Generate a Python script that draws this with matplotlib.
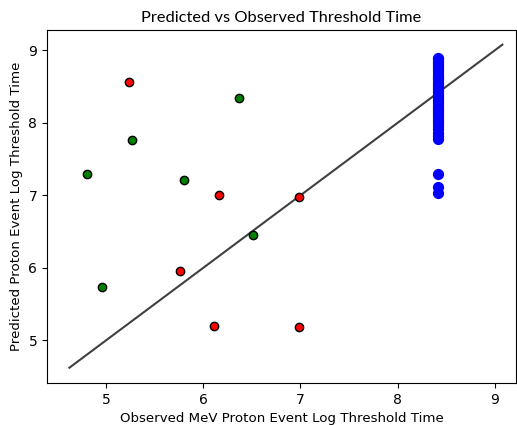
import numpy as np
import matplotlib.pyplot as plt

# observed vs predicted log threshold times
red_obs = [5.23, 6.16, 6.99, 5.76, 6.11, 6.99]
red_pred = [8.56, 7.00, 6.98, 5.95, 5.19, 5.18]
green_obs = [6.37, 5.27, 4.80, 5.80, 6.51, 4.96]
green_pred = [8.34, 7.76, 7.30, 7.21, 6.45, 5.74]
blue_obs = 8.42
blue_pred = [8.90, 8.88, 8.85, 8.82, 8.80, 8.77, 8.74, 8.71, 8.68, 8.65,
             8.62, 8.60, 8.57, 8.54, 8.51, 8.48, 8.45, 8.42, 8.39, 8.36,
             8.33, 8.30, 8.27, 8.24, 8.21, 8.18, 8.15, 8.12, 8.09, 8.06,
             8.03, 8.00, 7.96, 7.92, 7.86, 7.82, 7.78, 7.30, 7.12, 7.03]
line_range = [4.62, 9.08]

fig = plt.figure(figsize=(5.17, 4.25), dpi=100)
ax = fig.add_axes([0.091, 0.099, 0.907, 0.83])

ax.scatter([blue_obs] * len(blue_pred), blue_pred, s=50, c='blue', zorder=2)
ax.scatter(green_obs, green_pred, s=36, c='green', edgecolors='black', zorder=3)
ax.scatter(red_obs, red_pred, s=36, c='red', edgecolors='black', zorder=3)
ax.plot(line_range, line_range, color='#404040', lw=1.5, zorder=1)

ax.set_xlim(4.39, 9.22)
ax.set_ylim(4.41, 9.28)
ax.set_xticks([5, 6, 7, 8, 9])
ax.set_yticks([5, 6, 7, 8, 9])
ax.tick_params(labelsize=10)
ax.set_xlabel('Observed MeV Proton Event Log Threshold Time', fontsize=9.6)
ax.set_ylabel('Predicted Proton Event Log Threshold Time', fontsize=9.6)
ax.set_title('Predicted vs Observed Threshold Time', fontsize=11.8, family='Lato')

plt.savefig('out.png', dpi=100)
